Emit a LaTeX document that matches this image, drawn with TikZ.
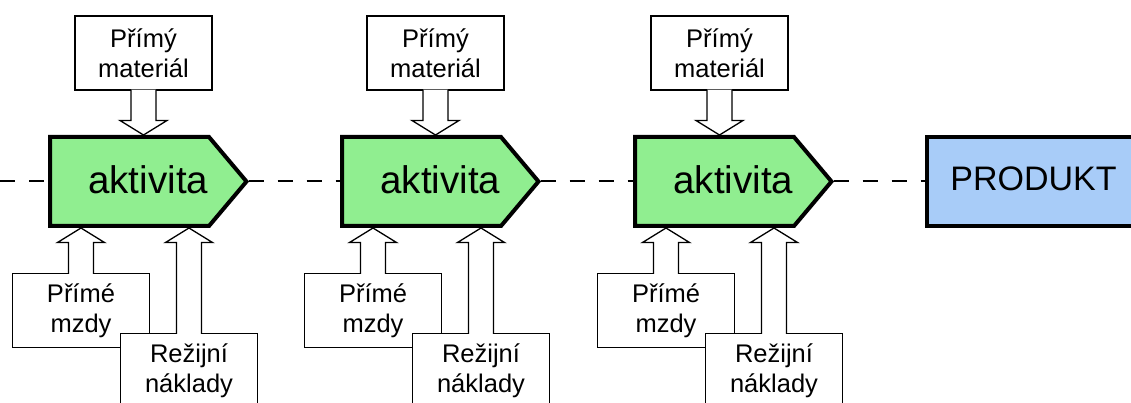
\documentclass[tikz,border=0pt]{standalone}
\usepackage{fontspec}
\setmainfont{Liberation Sans}
\usetikzlibrary{calc,backgrounds}

\definecolor{actgreen}{RGB}{144,238,144}
\definecolor{prodblue}{RGB}{168,204,248}

\tikzset{
  costbox/.style={draw=black, line width=1.3pt, fill=white,
    minimum width=137pt, minimum height=74pt, inner sep=0pt,
    align=center, font=\fontsize{25.5}{30}\selectfont},
  activity/.style={minimum width=196.5pt, minimum height=89pt,
    inner sep=0pt, outer sep=2pt, text depth=4pt,
    font=\fontsize{38.5}{45}\selectfont},
  actline/.style={draw=black, line width=4pt, fill=actgreen, line join=miter},
  product/.style={draw=black, line width=4pt, fill=prodblue,
    minimum width=213pt, minimum height=89pt, inner sep=0pt, outer sep=2pt,
    text depth=5pt, font=\fontsize{34}{40}\selectfont},
  flow/.style={line width=2pt, dash pattern=on 15pt off 14pt},
  hollow/.style={draw=black, fill=white, line width=1.3pt, line join=miter},
  % open-based block arrow pointing down (start above, tip below)
  hollowdown/.style={hollow, to path={
    ($(\tikztostart)+(-12.5,-1)$) -- ($(\tikztotarget)+(-12.5,-14.5)$)
    -- ($(\tikztotarget)+(-23.5,-14.5)$) -- (\tikztotarget)
    -- ($(\tikztotarget)+(23.5,-14.5)$) -- ($(\tikztotarget)+(12.5,-14.5)$)
    -- ($(\tikztostart)+(12.5,-1)$)}},
  % open-based block arrow pointing up (start below, tip above)
  hollowup/.style={hollow, to path={
    ($(\tikztostart)+(-12.5,1)$) -- ($(\tikztotarget)+(-12.5,14.5)$)
    -- ($(\tikztotarget)+(-23.5,14.5)$) -- (\tikztotarget)
    -- ($(\tikztotarget)+(23.5,14.5)$) -- ($(\tikztotarget)+(12.5,14.5)$)
    -- ($(\tikztostart)+(12.5,1)$)}},
}

\begin{document}
\begin{tikzpicture}[x=1pt, y=-1pt]
  \useasboundingbox (0,0) rectangle (1131,403);
  \clip (0,0) rectangle (1131,403);

  \coordinate (start) at (0,181.5);

  \foreach \i/\g/\mx in {1/0/143.5, 2/292/435.5, 3/585/719.5} {
    % activity with its arrow-shaped outline behind the label
    \node[activity] (a\i) at (148.25+\g,181.5) {aktivita};
    \begin{scope}[on background layer]
      \draw[actline] ($(a\i.center)+(-98.25,-44.5)$) -- ($(a\i.center)+(60.75,-44.5)$)
        -- ($(a\i.center)+(98.25,0)$) -- ($(a\i.center)+(60.75,44.5)$)
        -- ($(a\i.center)+(-98.25,44.5)$) -- cycle;
    \end{scope}

    % cost inputs
    \node[costbox] (m\i) at (\mx,53) {Přímý\\materiál};
    \node[costbox] (p\i) at (81+\g,310.5) {Přímé\\mzdy};
    \node[costbox] (r\i) at (189+\g,370.5) {Režijní\\náklady};

    \draw[hollowdown] (m\i.south) to (m\i.south |- a\i.north);
    \draw[hollowup] (p\i.north) to (p\i.north |- a\i.south);
    \draw[hollowup] (r\i.north) to (r\i.north |- a\i.south);
  }

  \node[product] (prod) at (1033.5,181.5) {PRODUKT};

  % process flow
  \draw[flow] (start) -- (a1.west);
  \draw[flow] (a1.east) -- (a2.west);
  \draw[flow] (a2.east) -- (a3.west);
  \draw[flow] (a3.east) -- (prod.west);
\end{tikzpicture}
\end{document}
